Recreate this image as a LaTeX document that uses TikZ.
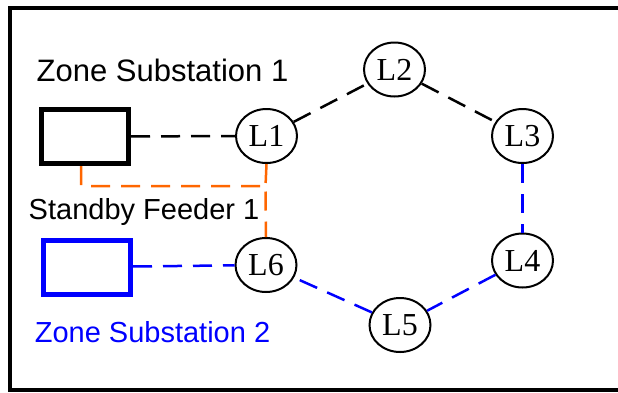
\documentclass[tikz,border=0pt]{standalone}
\usepackage{fontspec}
\setmainfont{Liberation Serif}
\newfontfamily\arialfont{Liberation Sans}
\usetikzlibrary{shapes.geometric}

\begin{document}
\begin{tikzpicture}[x=1pt,y=-1pt]
\tikzset{vertex/.style = {shape=ellipse,draw,line width=2pt,minimum width=61pt,minimum height=54pt,inner sep=0pt,font=\fontsize{32}{32}\selectfont}}
\tikzset{substation/.style = {shape=rectangle,draw,line width=5pt,minimum width=87pt,minimum height=54pt,inner sep=0pt}}
\tikzset{edge/.style = {line width=2.5pt,dash pattern=on 19pt off 11pt}}
\tikzset{label/.style = {font=\arialfont\fontsize{29}{29}\selectfont,inner sep=0pt}}
\definecolor{feeder}{RGB}{255,102,0}
\useasboundingbox (0,0) rectangle (618,392);
% frame
\draw[line width=4pt] (618,7.5) -- (9.5,7.5) -- (9.5,390) -- (618,390);
% substations
\node[substation] (zs1) at (85,136.5) {};
\node[substation,blue] (zs2) at (87,267) {};
\node[label,font=\arialfont\fontsize{31}{31}\selectfont] (zs1text) at (162.5,70) {Zone Substation 1};
\node[label] (sftext) at (144,212) {Standby Feeder 1};
\node[label,blue] (zs2text) at (152.5,332) {Zone Substation 2};
% vertices
\node[vertex] (l1) at (266.5,136) {L1};
\node[vertex] (l2) at (394.5,69.5) {L2};
\node[vertex] (l3) at (522.5,136) {L3};
\node[vertex] (l4) at (522.5,260.5) {L4};
\node[vertex] (l5) at (400,325) {L5};
\node[vertex] (l6) at (266,265) {L6};
\coordinate (fork) at (265.5,186);
%edges
\draw[edge] (zs1) to (l1);
\draw[edge] (l1) to (l2);
\draw[edge] (l2) to (l3);
\draw[edge,blue] (l3) to (l4);
\draw[edge,blue] (l4) to (l5);
\draw[edge,blue] (l5) to (l6);
\draw[edge,blue] (zs2) to (l6);
\draw[edge,feeder] ([xshift=-4pt]zs1.south) |- (fork) -- (l6.north);
\draw[edge,feeder] (l1.south) -- (fork);
\end{tikzpicture}
\end{document}
